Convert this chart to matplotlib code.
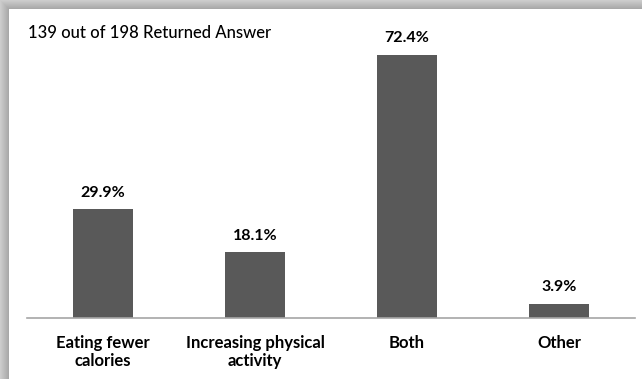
import numpy as np
import matplotlib.pyplot as plt

categories = ['Eating fewer\ncalories', 'Increasing physical\nactivity', 'Both', 'Other']
percents = [29.9, 18.1, 72.4, 3.9]
value_labels = ['29.9%', '18.1%', '72.4%', '3.9%']
note = '139 out of 198 Returned Answer'

plt.rcParams['font.family'] = ['Lato', 'DejaVu Sans']

W, H = 642, 379
fig = plt.figure(figsize=(W / 100, H / 100), dpi=100)

# shadow frame on top / left edges
bg = fig.add_axes([0, 0, 1, 1], zorder=0)
img = np.ones((H, W))
shade = 9
ramp = np.linspace(0.80, 0.66, shade)
for i in range(shade):
    img[i, i:] = ramp[i]
    img[i:, i] = np.minimum(img[i:, i], ramp[i])
bg.imshow(img, cmap='gray', vmin=0, vmax=1, aspect='auto', interpolation='bilinear')
bg.axis('off')

ax = fig.add_axes([27 / W, 61 / H, 608 / W, 309 / H], zorder=1)
ax.patch.set_alpha(0)
x = np.arange(len(categories))
bars = ax.bar(x, percents, width=0.395, color='#595959')
for bar, lab in zip(bars, value_labels):
    ax.text(bar.get_x() + bar.get_width() / 2, bar.get_height() + 2.6, lab,
            ha='center', va='bottom', fontsize=11.5, fontweight='bold', color='black')

ax.set_xlim(-0.5, len(categories) - 0.5)
ax.set_ylim(0, 85)
ax.set_xticks(x)
ax.set_xticklabels(categories, fontsize=12, fontweight='bold', linespacing=1.15)
ax.tick_params(axis='x', length=0, pad=12)
ax.set_yticks([])
for s in ['top', 'right', 'left']:
    ax.spines[s].set_visible(False)
ax.spines['bottom'].set_color('#a6a6a6')
ax.spines['bottom'].set_linewidth(1.2)

fig.text(28 / W, 1 - 33 / H, note, ha='left', va='center', fontsize=12,
         fontweight='medium', color='black')

fig.savefig('out.png', dpi=100)
